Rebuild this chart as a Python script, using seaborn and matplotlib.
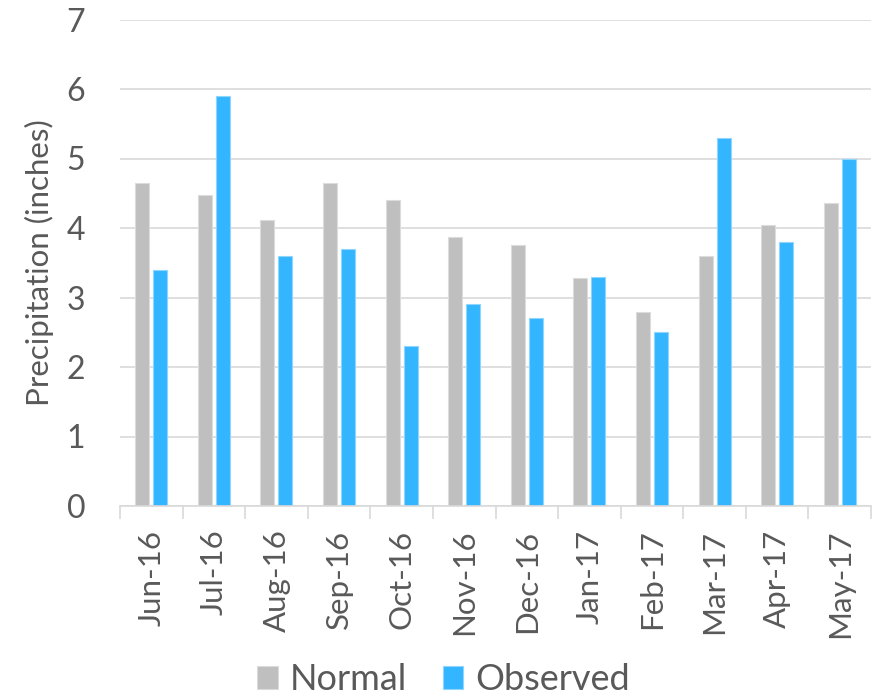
import numpy as np
import pandas as pd
import matplotlib
matplotlib.use("Agg")
import matplotlib.pyplot as plt
import matplotlib.colors as mcolors
import seaborn as sns

# Monthly precipitation, inches
months = ["Jun-16", "Jul-16", "Aug-16", "Sep-16", "Oct-16", "Nov-16",
          "Dec-16", "Jan-17", "Feb-17", "Mar-17", "Apr-17", "May-17"]
normal = [4.65, 4.47, 4.11, 4.65, 4.41, 3.87, 3.76, 3.28, 2.79, 3.59, 4.04, 4.36]
observed = [3.40, 5.90, 3.60, 3.70, 2.30, 2.90, 2.70, 3.30, 2.50, 5.30, 3.80, 5.00]
series = ["Normal", "Observed"]
y_ticks = [0, 1, 2, 3, 4, 5, 6, 7]

df = pd.DataFrame({
    "Month": months * 2,
    "Precipitation": normal + observed,
    "Series": [series[0]] * len(months) + [series[1]] * len(months),
})

sns.set_theme(style="white")
plt.rcParams["font.family"] = ["Lato", "DejaVu Sans"]

TEXT = "#595959"
GRID = "#D9D9D9"
colors = {"Normal": "#BFBFBF", "Observed": "#33B5FF"}

fig = plt.figure(figsize=(8.73, 6.98), dpi=100)
ax = fig.add_axes([120 / 873, 1 - 506 / 698, 751 / 873, (506 - 19.5) / 698])

sns.barplot(data=df, x="Month", y="Precipitation", hue="Series",
            hue_order=series, order=months, palette=colors, saturation=1,
            width=0.576, gap=0.222, ax=ax, legend=True)

# thin light outline around each bar
for p in ax.patches:
    fc = np.array(mcolors.to_rgb(p.get_facecolor()))
    p.set_edgecolor(tuple(fc + (1 - fc) * 0.45))
    p.set_linewidth(0.8)

ax.set_xlim(-0.5, len(months) - 0.5)
ax.set_ylim(0, 7)

ax.yaxis.grid(True, color=GRID, linewidth=1.2)
ax.set_axisbelow(True)
for side in ["top", "right", "left"]:
    ax.spines[side].set_visible(False)
ax.spines["bottom"].set_color(GRID)
ax.spines["bottom"].set_linewidth(1.2)

ax.set_xticks(range(len(months)), labels=months, rotation=90)
ax.set_xticks(np.arange(-0.5, len(months), 1), minor=True)
ax.tick_params(axis="x", which="major", length=0, pad=17,
               labelsize=22.5, labelcolor=TEXT)
ax.tick_params(axis="x", which="minor", length=9.5, width=1.2,
               color=GRID, bottom=True)

ax.set_yticks(y_ticks)
ax.tick_params(axis="y", length=0, pad=25, labelsize=23, labelcolor=TEXT)

ax.set_xlabel("")
ax.set_ylabel("Precipitation (inches)", fontsize=22.5, color=TEXT, labelpad=9)

handles, labels = ax.get_legend_handles_labels()
ax.get_legend().remove()
fig.legend(handles, labels, loc="lower center", bbox_to_anchor=(0.508, -0.044),
           ncol=2, frameon=False, fontsize=26, labelcolor=TEXT,
           handlelength=0.56, handleheight=0.6, handletextpad=0.33,
           columnspacing=1.0)

fig.savefig("out.png", dpi=100)
